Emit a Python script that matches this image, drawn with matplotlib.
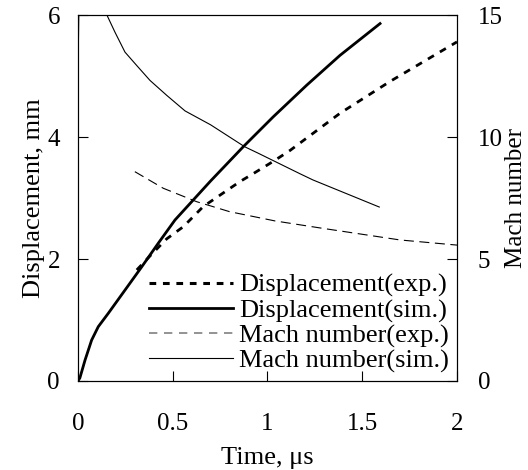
import matplotlib
matplotlib.use('Agg')
import matplotlib.pyplot as plt
from matplotlib.lines import Line2D

plt.rcParams['font.family'] = ['Liberation Serif', 'DejaVu Serif']
plt.rcParams['font.size'] = 19

# Deslocamento (simulação)
t_disp_sim = [0, 0.01, 0.037, 0.072, 0.107, 0.16, 0.248, 0.336, 0.424, 0.512, 0.7, 0.872, 1.03, 1.207, 1.383, 1.594]
disp_sim = [0, 0.05, 0.34, 0.67, 0.89, 1.11, 1.49, 1.87, 2.26, 2.64, 3.28, 3.84, 4.33, 4.85, 5.34, 5.86]

# Deslocamento (experimento)
t_disp_exp = [0.31, 0.38, 0.468, 0.556, 0.661, 0.855, 0.925, 1.03, 1.119, 1.383, 1.646, 2.0]
disp_exp = [1.82, 2.05, 2.33, 2.53, 2.86, 3.27, 3.40, 3.6, 3.78, 4.39, 4.91, 5.56]

# Numero de Mach (experimento)
t_mach_exp = [0.3, 0.45, 0.626, 0.8, 1.04, 1.28, 1.7, 2.0]
mach_exp = [8.58, 7.9, 7.35, 6.94, 6.56, 6.27, 5.78, 5.57]

# Numero de Mach (simulação)
t_mach_sim = [0, 0.005, 0.05, 0.10, 0.13, 0.155, 0.195, 0.248, 0.309, 0.38, 0.468, 0.565, 0.70, 0.88, 0.95, 1.17, 1.24, 1.59]
mach_sim = [12.5, 15.5, 18, 17, 15.8, 14.96, 14.3, 13.48, 12.94, 12.32, 11.71, 11.07, 10.5, 9.6, 9.34, 8.5, 8.24, 7.13]

fig, ax = plt.subplots(figsize=(5.28, 4.70), dpi=100)
fig.subplots_adjust(left=0.1477, right=0.8655, bottom=0.1894, top=0.968)
ax2 = ax.twinx()

ax.plot(t_disp_exp, disp_exp, color='black', lw=2, linestyle=(0, (2.5, 2.5)))
ax.plot(t_disp_sim, disp_sim, color='black', lw=2)
ax2.plot(t_mach_exp, mach_exp, color='black', lw=0.8, linestyle=(0, (9, 5)))
ax2.plot(t_mach_sim, mach_sim, color='black', lw=0.8)

ax.set_xlim(0, 2)
ax.set_ylim(0, 6)
ax2.set_ylim(0, 15)
ax.set_xticks([0, 0.5, 1, 1.5, 2])
ax.set_xticklabels(['0', '0.5', '1', '1.5', '2'])
ax.set_yticks([0, 2, 4, 6])
ax2.set_yticks([0, 5, 10, 15])

ax.tick_params(axis='x', direction='in', length=7, pad=23, labelsize=18)
ax.tick_params(axis='y', direction='in', length=7, pad=13, labelsize=18)
ax2.tick_params(axis='y', direction='in', length=7, pad=15, labelsize=18)

ax.set_xlabel('Time, μs', labelpad=9)
ax.set_ylabel('Displacement, mm', labelpad=2)
ax2.set_ylabel('Mach number', fontsize=18)
ax2.yaxis.set_label_coords(1.127, 0.5)

# legenda com as linhas do jeito da figura original
h1 = Line2D([], [], color='black', lw=2.2, linestyle=(0, (2.2, 2.2)))
h2 = Line2D([], [], color='black', lw=2)
h3 = Line2D([], [], color='#808080', lw=1.2, linestyle=(0, (5, 4)))
h4 = Line2D([], [], color='black', lw=0.8)
leg = ax2.legend([h1, h2, h3, h4],
                 ['Displacement(exp.)', 'Displacement(sim.)', 'Mach number(exp.)', 'Mach number(sim.)'],
                 loc='lower right', frameon=False, handlelength=3.15, handletextpad=0.25,
                 labelspacing=0.05, borderaxespad=0.1, borderpad=0.2, fontsize=19)

plt.savefig('out.png', dpi=100)
